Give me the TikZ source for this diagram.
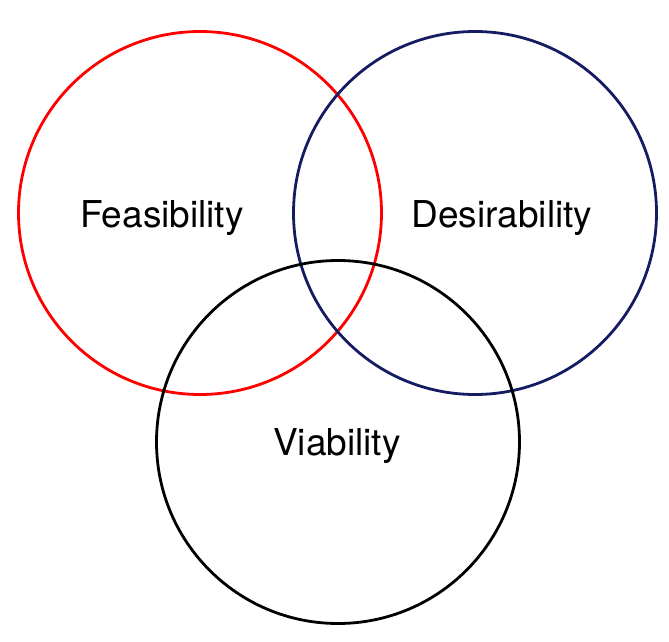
\documentclass[tikz,border=0pt]{standalone}
\usepackage{fontspec}
\setmainfont{TeX Gyre Heros}
\definecolor{navyc}{RGB}{22,28,98}
\definecolor{redc}{RGB}{255,0,0}
\begin{document}
\begin{tikzpicture}[x=1pt,y=-1pt,
  ring/.style={line width=2.8pt},
  lbl/.style={font=\fontsize{37}{40}\selectfont, anchor=base, inner sep=0pt}]
\useasboundingbox (0,0) rectangle (669,642);
\draw[ring, redc] (200,213) circle[radius=181.5];
\draw[ring, navyc] (475,213) circle[radius=181.5];
\draw[ring, black] (338,442) circle[radius=181.5];
\node[lbl] (feas) at (162,227) {Feasibility};
\node[lbl] (des) at (502,227) {Desirability};
\node[lbl] (via) at (337,455) {Viability};
\end{tikzpicture}
\end{document}
